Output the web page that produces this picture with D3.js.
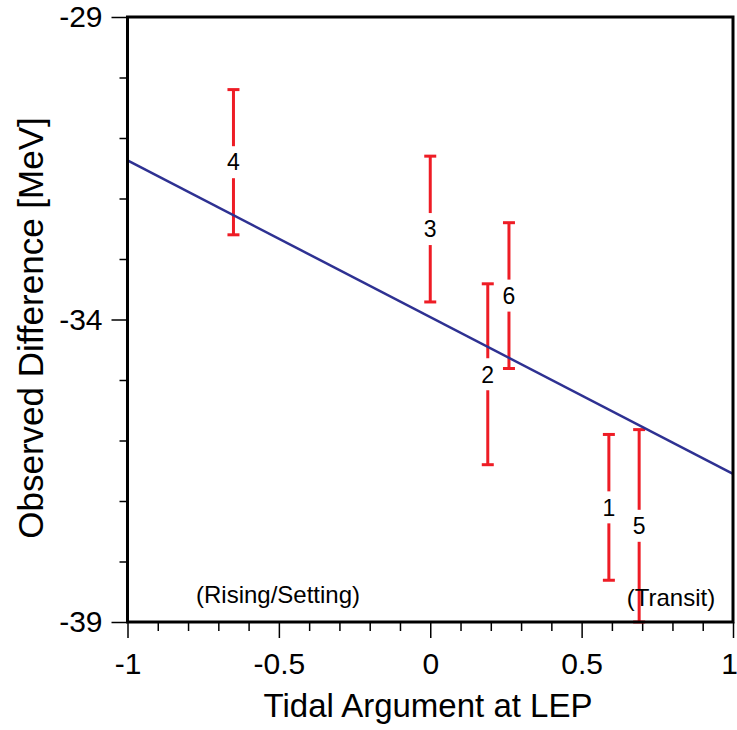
<!DOCTYPE html>
<html><head><meta charset="utf-8">
<script src="https://cdn.jsdelivr.net/npm/d3@7"></script>
<style>
body{margin:0;background:#fff;}
text{font-family:"Liberation Sans",Arial,Helvetica,sans-serif;}
</style>
</head><body>
<svg id="chart" width="737" height="730"></svg>
<script>
// Data
const labels = ["1","2","3","4","5","6"];
const xVals  = [0.59, 0.19, 0.00, -0.65, 0.69, 0.26];
const yLow   = [-38.31, -36.40, -33.71, -32.60, -39.00, -34.81];
const yHigh  = [-35.90, -33.41, -31.30, -30.20, -35.82, -32.40];
const fitX = [-1, 1];
const fitY = [-31.37, -36.55];
const xMajorTicks = [-1, -0.5, 0, 0.5, 1];
const xTickLabels = ["-1", "-0.5", "0", "0.5", "1"];
const xMinorTicks = [-0.9,-0.8,-0.7,-0.6,-0.4,-0.3,-0.2,-0.1,0.1,0.2,0.3,0.4,0.6,0.7,0.8,0.9];
const yMajorTicks = [-29, -34, -39];
const yTickLabels = ["-29", "-34", "-39"];
const yMinorTicks = [-30,-31,-32,-33,-35,-36,-37,-38];
const notes = ["(Rising/Setting)", "(Transit)"];

const svg = d3.select("#chart");
const L = 127.5, R = 733, T = 17, B = 622;
const x = d3.scaleLinear().domain([-1, 1]).range([L, R]);
const y = d3.scaleLinear().domain([-39, -29]).range([B, T]);

// minor ticks
svg.append("g").attr("transform", `translate(0,${B})`)
  .call(d3.axisBottom(x).tickValues(xMinorTicks).tickSize(9).tickFormat(""))
  .call(g => g.select(".domain").remove())
  .call(g => g.selectAll("line").attr("stroke", "#000").attr("stroke-width", 1.5));
svg.append("g").attr("transform", `translate(${L},0)`)
  .call(d3.axisLeft(y).tickValues(yMinorTicks).tickSize(8).tickFormat(""))
  .call(g => g.select(".domain").remove())
  .call(g => g.selectAll("line").attr("stroke", "#000").attr("stroke-width", 1.5));

// major ticks
svg.append("g").attr("transform", `translate(0,${B})`)
  .call(d3.axisBottom(x).tickValues(xMajorTicks).tickSize(16).tickPadding(15)
    .tickFormat((d, i) => xTickLabels[i]))
  .call(g => g.select(".domain").remove())
  .call(g => g.selectAll("line").attr("stroke", "#000").attr("stroke-width", 1.5))
  .call(g => g.selectAll("text").attr("font-size", 30).attr("fill", "#000")
    .attr("font-family", "'Liberation Sans',Arial,sans-serif")
    .attr("dx", d => d === 1 ? -4 : 0));
svg.append("g").attr("transform", `translate(${L},0)`)
  .call(d3.axisLeft(y).tickValues(yMajorTicks).tickSize(16).tickPadding(9)
    .tickFormat((d, i) => yTickLabels[i]))
  .call(g => g.select(".domain").remove())
  .call(g => g.selectAll("line").attr("stroke", "#000").attr("stroke-width", 1.5))
  .call(g => g.selectAll("text").attr("font-size", 30).attr("fill", "#000")
    .attr("font-family", "'Liberation Sans',Arial,sans-serif"));

// error bars
const red = "#ee1c25";
const gap = 16, cap = 6;
const bars = svg.append("g");
labels.forEach((lab, i) => {
  const cx = x(xVals[i]);
  const yt = y(yHigh[i]), yb = y(yLow[i]);
  const ym = (yt + yb) / 2;
  bars.append("line").attr("x1", cx).attr("x2", cx).attr("y1", yt).attr("y2", ym - gap)
    .attr("stroke", red).attr("stroke-width", 3);
  bars.append("line").attr("x1", cx).attr("x2", cx).attr("y1", ym + gap).attr("y2", yb)
    .attr("stroke", red).attr("stroke-width", 3);
  [yt, yb].forEach(v => bars.append("line").attr("x1", cx - cap).attr("x2", cx + cap)
    .attr("y1", v).attr("y2", v).attr("stroke", red).attr("stroke-width", 3));
  bars.append("text").attr("x", cx).attr("y", ym).attr("dy", "0.36em")
    .attr("text-anchor", "middle").attr("font-size", 23).attr("fill", "#000").text(lab);
});

// fit line
svg.append("line")
  .attr("x1", x(fitX[0])).attr("y1", y(fitY[0]))
  .attr("x2", x(fitX[1])).attr("y2", y(fitY[1]))
  .attr("stroke", "#2e3192").attr("stroke-width", 2.5);

// frame
svg.append("rect").attr("x", L).attr("y", T).attr("width", R - L).attr("height", B - T)
  .attr("fill", "none").attr("stroke", "#000").attr("stroke-width", 3);

// notes
svg.append("text").attr("x", 278).attr("y", 603).attr("text-anchor", "middle")
  .attr("font-size", 24).text(notes[0]);
svg.append("text").attr("x", 671).attr("y", 606).attr("text-anchor", "middle")
  .attr("font-size", 24).text(notes[1]);

// axis titles
svg.append("text").attr("x", 428).attr("y", 717).attr("text-anchor", "middle")
  .attr("font-size", 33).text("Tidal Argument at LEP");
svg.append("text").attr("transform", "translate(43,328) rotate(-90)")
  .attr("text-anchor", "middle").attr("font-size", 35).text("Observed Difference [MeV]");
</script>
</body></html>
